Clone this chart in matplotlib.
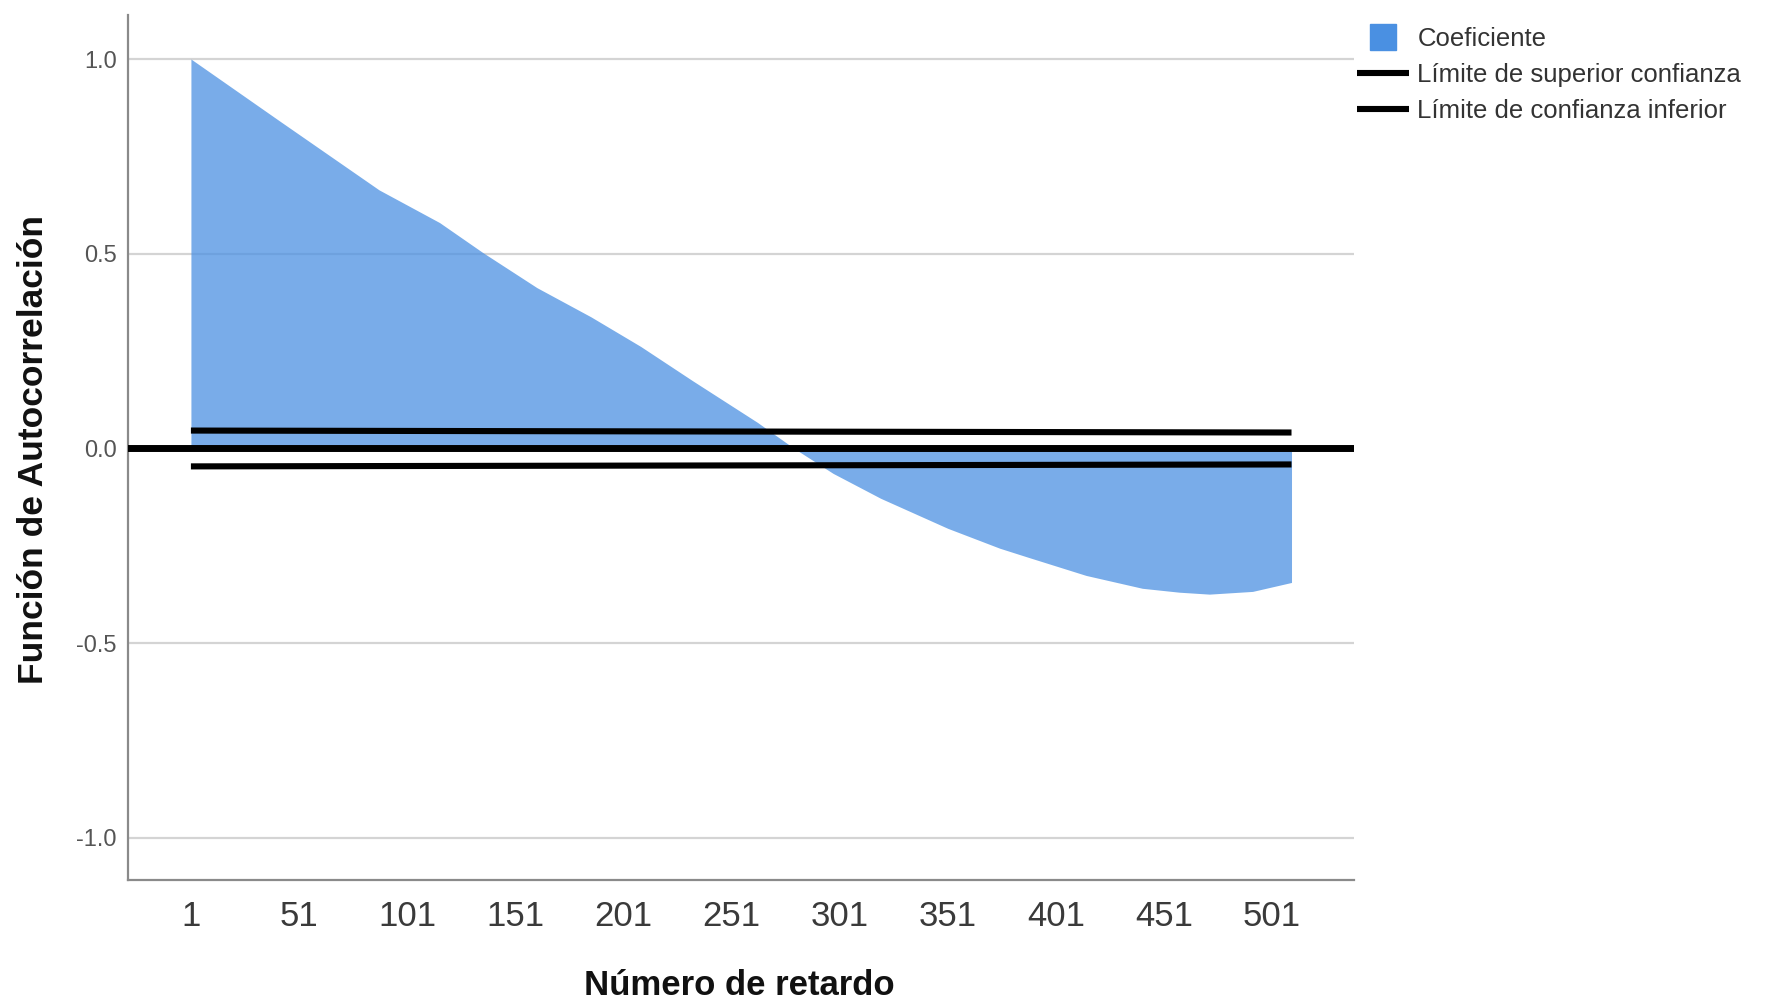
import matplotlib
matplotlib.use("Agg")
import matplotlib.pyplot as plt
from matplotlib.lines import Line2D

# ---- data ----
lags = [1, 42, 88, 116, 136, 161, 186, 209, 233, 263, 280, 298, 320,
        351, 375, 388, 415, 441, 458, 472, 492, 510]
acf = [1.000, 0.841, 0.664, 0.580, 0.503, 0.413, 0.338, 0.262, 0.174, 0.067,
       0.000, -0.064, -0.128, -0.205, -0.256, -0.279, -0.326, -0.359, -0.369,
       -0.374, -0.367, -0.344]
conf_lags = [1, 510]
upper_conf = [0.046, 0.041]
lower_conf = [-0.046, -0.041]
xticks = [1, 51, 101, 151, 201, 251, 301, 351, 401, 451, 501]
yticks = [-1.0, -0.5, 0.0, 0.5, 1.0]
labels = ["Coeficiente", "Límite de superior confianza", "Límite de confianza inferior"]

font = "Liberation Sans"

fig = plt.figure(figsize=(17.88, 10.02), dpi=100)
ax = fig.add_axes([128 / 1788, 1 - 880 / 1002, (1354 - 128) / 1788, (880 - 15) / 1002])

ax.set_xlim(-28.1, 538.9)
ax.set_ylim(-1.108, 1.113)

for y in yticks:
    if y != 0:
        ax.axhline(y, color="#d4d4d4", lw=1.6, zorder=1)

ax.fill_between(lags, acf, 0, color="#4A90E2", alpha=0.74, lw=0, zorder=2)
ax.axhline(0, color="black", lw=5, zorder=4)
ax.plot(conf_lags, upper_conf, color="black", lw=4.4, solid_capstyle="butt", zorder=5)
ax.plot(conf_lags, lower_conf, color="black", lw=4.4, solid_capstyle="butt", zorder=5)

for s in ["top", "right"]:
    ax.spines[s].set_visible(False)
for s in ["left", "bottom"]:
    ax.spines[s].set_color("#8a8a8a")
    ax.spines[s].set_linewidth(1.6)

ax.set_xticks(xticks)
ax.set_xticklabels([str(v) for v in xticks], family=font, fontsize=25, color="#3a3a3a")
ax.set_yticks(yticks)
ax.set_yticklabels([f"{v:.1f}" for v in yticks], family=font, fontsize=17, color="#555555")
ax.tick_params(axis="x", length=0, pad=14.5)
ax.tick_params(axis="y", length=0, pad=8)

ax.set_xlabel("Número de retardo", family=font, fontweight="bold", fontsize=25, color="#111111")
ax.set_ylabel("Función de Autocorrelación", family=font, fontweight="bold", fontsize=25.5, color="#111111")
ax.xaxis.set_label_coords(0.499, -0.103)
ax.yaxis.set_label_coords(-0.064, 0.498)

handles = [
    Line2D([], [], marker="s", linestyle="none", markersize=19, color="#4A90E2"),
    Line2D([], [], color="black", lw=4.4, solid_capstyle="butt"),
    Line2D([], [], color="black", lw=4.4, solid_capstyle="butt"),
]
leg = fig.legend(handles, labels, loc="upper left",
                 bbox_to_anchor=(1357 / 1788, 1 - 27 / 1002),
                 frameon=False, handlelength=2.02, handletextpad=0.33,
                 labelspacing=0.46, borderaxespad=0, borderpad=0,
                 prop={"family": font, "size": 18.5})
for t in leg.get_texts():
    t.set_color("#333333")

fig.savefig("out.png", dpi=100)
